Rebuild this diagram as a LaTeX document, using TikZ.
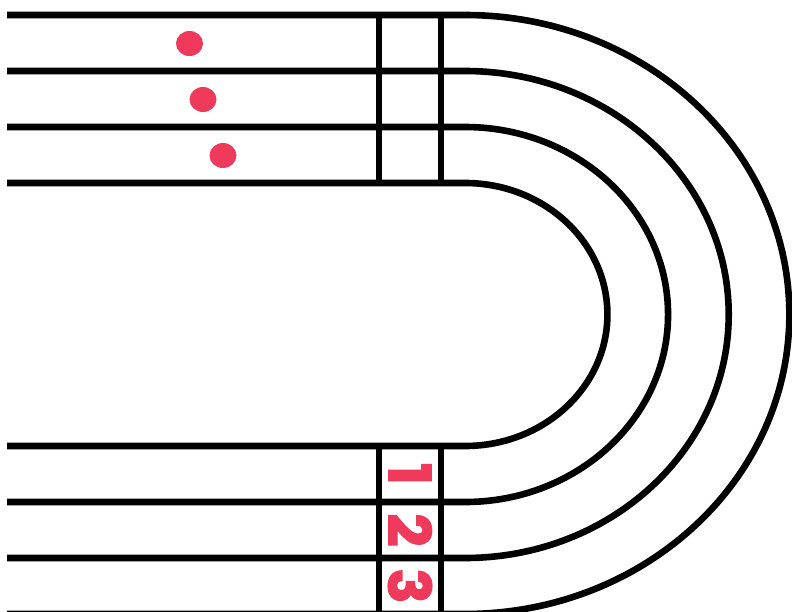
\documentclass[tikz,border=0pt]{standalone}
\usepackage{fontspec}
\usepackage{tikz}
\usepackage{xcolor}
\newfontfamily\lanefont{Poppins}[BoldFeatures={FakeBold=2.5}]
\definecolor{trkred}{HTML}{EF3A5C}
\definecolor{trkink}{HTML}{000000}
\tikzset{
  trackLine/.style={line width=6.6pt, draw=trkink},
  laneNum/.style={text=trkred, font=\lanefont\bfseries\fontsize{58}{58}\selectfont, rotate=-90, inner sep=0pt},
  runnerDot/.style={fill=trkred, draw=none}
}

\begin{document}
\begin{tikzpicture}[x=1pt,y=-1pt]
  \useasboundingbox (0,0) rectangle (792,611);
  \clip (0,0) rectangle (792,611);
  % lane lines, straight part and bend
  \foreach \y/\b in {15/299.5,71/243.5,127/187.5,183/131.5}
    \draw[trackLine] (7,\y) -- (465,\y)
      arc[start angle=-90, end angle=90, x radius=1.083*\b, y radius=\b]
      -- (7,629-\y);
  % start and finish marks
  \draw[trackLine] (379,15) -- (379,183);
  \draw[trackLine] (441,15) -- (441,183);
  \draw[trackLine] (379,446) -- (379,614);
  \draw[trackLine] (441,446) -- (441,614);
  % lane numbers
  \foreach \n/\y in {1/474,2/530,3/586}
    \node[laneNum] (lane\n) at (410,\y) {\n};
  % runners
  \foreach \x/\y [count=\i] in {189.5/43.5,203/99.5,223/155.5}
    \fill[runnerDot] (\x,\y) ellipse[x radius=13.5, y radius=12.5];
\end{tikzpicture}
\end{document}
